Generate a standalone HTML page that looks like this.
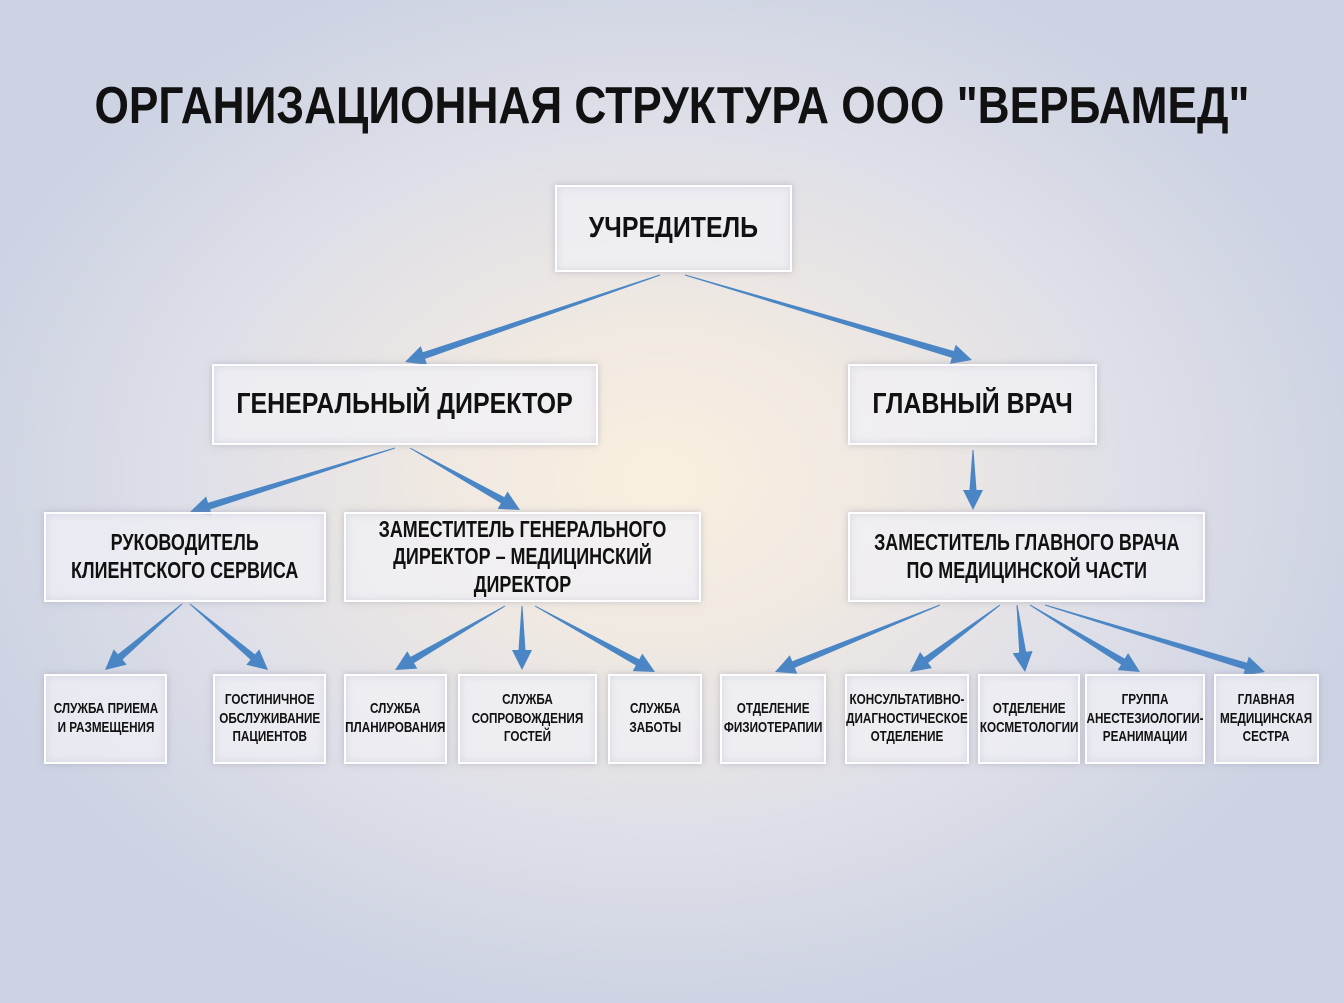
<!DOCTYPE html>
<html><head><meta charset="utf-8"><style>
html,body{margin:0;padding:0}
body{width:1344px;height:1003px;overflow:hidden;position:relative;
background:radial-gradient(ellipse 720px 540px at 660px 480px,#faf0e0 0%,#f0e9e2 30%,#dedfe8 65%,#cdd3e3 100%);
font-family:"Liberation Sans",sans-serif;font-weight:bold;color:#111}
.b{position:absolute;display:flex;align-items:center;justify-content:center;text-align:center;box-sizing:border-box;
background:rgba(240,240,245,0.75);border:2px solid rgba(255,255,255,0.9);box-shadow:0 0 6px rgba(150,150,170,0.5),inset 0 0 8px rgba(200,200,215,0.6)}
.b span{display:inline-block;white-space:nowrap;transform:scaleX(0.78)}
.l span{transform:scaleX(0.86)}
.l{font-size:29px;line-height:1.2}.m{font-size:23px;line-height:1.2}.s{font-size:15px;line-height:1.25}
svg{position:absolute;left:0;top:0}
</style></head><body>
<svg width="1344" height="1003" id="sv">
<text x="672" y="123" text-anchor="middle" font-family="Liberation Sans, sans-serif" font-weight="bold" font-size="52" textLength="1155" lengthAdjust="spacingAndGlyphs" fill="#111">ОРГАНИЗАЦИОННАЯ СТРУКТУРА ООО "ВЕРБАМЕД"</text>
</svg>
<div class="b l" style="left:555px;top:185px;width:237px;height:87px"><span>УЧРЕДИТЕЛЬ</span></div>
<div class="b l" style="left:212px;top:364px;width:386px;height:81px"><span>ГЕНЕРАЛЬНЫЙ ДИРЕКТОР</span></div>
<div class="b l" style="left:848px;top:364px;width:249px;height:81px"><span>ГЛАВНЫЙ ВРАЧ</span></div>
<div class="b m" style="left:44px;top:512px;width:282px;height:90px"><span>РУКОВОДИТЕЛЬ<br>КЛИЕНТСКОГО СЕРВИСА</span></div>
<div class="b m" style="left:344px;top:512px;width:357px;height:90px"><span>ЗАМЕСТИТЕЛЬ ГЕНЕРАЛЬНОГО<br>ДИРЕКТОР – МЕДИЦИНСКИЙ<br>ДИРЕКТОР</span></div>
<div class="b m" style="left:848px;top:512px;width:357px;height:90px"><span>ЗАМЕСТИТЕЛЬ ГЛАВНОГО ВРАЧА<br>ПО МЕДИЦИНСКОЙ ЧАСТИ</span></div>
<div class="b s" style="left:44px;top:674px;width:123px;height:90px"><span>СЛУЖБА ПРИЕМА<br>И РАЗМЕЩЕНИЯ</span></div>
<div class="b s" style="left:213px;top:674px;width:113px;height:90px"><span>ГОСТИНИЧНОЕ<br>ОБСЛУЖИВАНИЕ<br>ПАЦИЕНТОВ</span></div>
<div class="b s" style="left:344px;top:674px;width:103px;height:90px"><span>СЛУЖБА<br>ПЛАНИРОВАНИЯ</span></div>
<div class="b s" style="left:458px;top:674px;width:139px;height:90px"><span>СЛУЖБА<br>СОПРОВОЖДЕНИЯ<br>ГОСТЕЙ</span></div>
<div class="b s" style="left:608px;top:674px;width:94px;height:90px"><span>СЛУЖБА<br>ЗАБОТЫ</span></div>
<div class="b s" style="left:720px;top:674px;width:106px;height:90px"><span>ОТДЕЛЕНИЕ<br>ФИЗИОТЕРАПИИ</span></div>
<div class="b s" style="left:845px;top:674px;width:124px;height:90px"><span>КОНСУЛЬТАТИВНО-<br>ДИАГНОСТИЧЕСКОЕ<br>ОТДЕЛЕНИЕ</span></div>
<div class="b s" style="left:978px;top:674px;width:102px;height:90px"><span>ОТДЕЛЕНИЕ<br>КОСМЕТОЛОГИИ</span></div>
<div class="b s" style="left:1085px;top:674px;width:120px;height:90px"><span>ГРУППА<br>АНЕСТЕЗИОЛОГИИ-<br>РЕАНИМАЦИИ</span></div>
<div class="b s" style="left:1214px;top:674px;width:105px;height:90px"><span>ГЛАВНАЯ<br>МЕДИЦИНСКАЯ<br>СЕСТРА</span></div>
<script>
var A=[[660,275,405,362],[685,275,972,360],[395,448,190,512],[410,448,520,510],[973,450,973,510],
[182,604,105,670],[190,604,268,670],[505,606,395,670],[522,606,522,670],[535,606,655,672],
[940,605,775,672],[1000,605,910,672],[1017,605,1025,672],[1030,605,1140,672],[1045,605,1265,672]];
var s=document.getElementById('sv'),ns='http://www.w3.org/2000/svg';
A.forEach(function(a){var x1=a[0],y1=a[1],x2=a[2],y2=a[3],dx=x2-x1,dy=y2-y1,L=Math.hypot(dx,dy),ux=dx/L,uy=dy/L,px=-uy,py=ux;
var hl=20,hw=10,sw=3.5;var bx=x2-ux*hl,by=y2-uy*hl;
var pts=[[x1+px*0.5,y1+py*0.5],[bx+px*sw,by+py*sw],[bx+px*hw,by+py*hw],[x2,y2],[bx-px*hw,by-py*hw],[bx-px*sw,by-py*sw],[x1-px*0.5,y1-py*0.5]];
var p=document.createElementNS(ns,'polygon');p.setAttribute('points',pts.map(function(q){return q[0].toFixed(1)+','+q[1].toFixed(1)}).join(' '));
p.setAttribute('fill','#4a86c5');s.appendChild(p);});
</script>
</body></html>
